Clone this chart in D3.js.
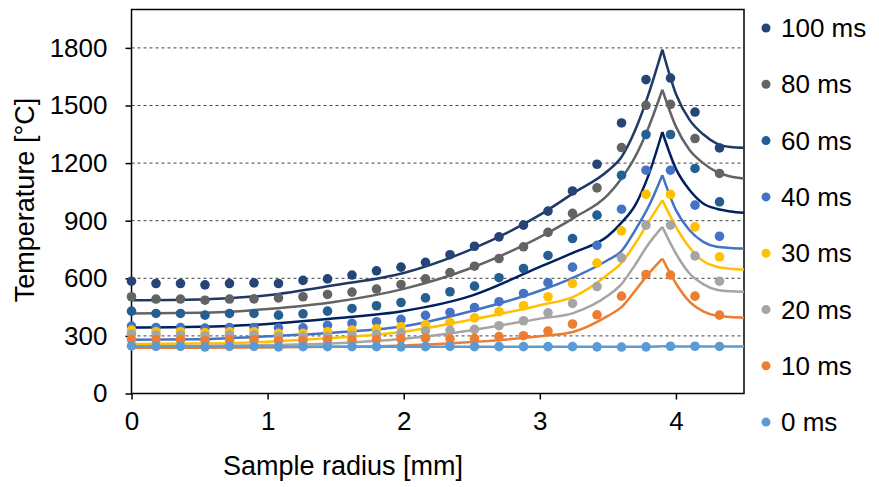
<!DOCTYPE html>
<html>
<head>
<meta charset="utf-8">
<script src="https://cdn.jsdelivr.net/npm/d3@7"></script>
<style>
    body { margin: 0; background: #fff; }
    svg text { font-family: "Liberation Sans", Arial, sans-serif; fill: #000; }
</style>
</head>
<body>
<div id="chart"></div>
<script>
// measured points (radius in mm)
const radius = [0, 0.18, 0.36, 0.54, 0.72, 0.9, 1.08, 1.26, 1.44, 1.62, 1.8, 1.98, 2.16,
    2.34, 2.52, 2.7, 2.88, 3.06, 3.24, 3.42, 3.6, 3.78, 3.96, 4.14, 4.32];

const series = ["100 ms", "80 ms", "60 ms", "40 ms", "30 ms", "20 ms", "10 ms", "0 ms"];

const measured100 = [585, 573, 573, 566, 573, 576, 573, 589, 597, 617, 639, 658, 683, 723, 767, 816, 877, 950, 1055, 1194, 1409, 1635, 1643, 1466, 1279];
const measured80 = [504, 492, 492, 486, 492, 493, 498, 504, 516, 528, 544, 568, 597, 630, 663, 703, 764, 839, 938, 1071, 1281, 1501, 1506, 1328, 1146];
const measured60 = [429, 417, 417, 408, 417, 417, 408, 415, 429, 443, 457, 474, 498, 530, 559, 603, 651, 719, 807, 929, 1137, 1349, 1349, 1172, 998];
const measured40 = [351, 344, 344, 341, 344, 344, 342, 342, 355, 365, 374, 386, 407, 422, 448, 478, 521, 577, 658, 772, 960, 1163, 1163, 981, 819];
const measured30 = [330, 322, 322, 317, 322, 322, 313, 313, 322, 330, 337, 348, 358, 370, 394, 426, 457, 504, 573, 679, 847, 1037, 1037, 868, 712];
const measured20 = [310, 305, 305, 300, 305, 305, 296, 296, 296, 304, 308, 316, 325, 329, 334, 353, 379, 420, 469, 557, 707, 877, 877, 717, 585];
const measured10 = [282, 280, 280, 276, 280, 280, 275, 275, 278, 278, 281, 284, 287, 285, 287, 296, 301, 325, 362, 410, 507, 620, 617, 507, 408];
const measured0 = [248, 245, 245, 242, 245, 245, 243, 244, 244, 244, 244, 243, 244, 245, 244, 244, 244, 244, 244, 243, 242, 243, 246, 246, 245];

// simulated curves
const lineRadius = [0, 0.5, 1, 1.5, 2, 2.5, 3, 3.25, 3.5, 3.6, 3.7, 3.8, 3.9, 4.0, 4.1, 4.2, 4.3, 4.4, 4.5];
const peakRadius = 3.9;

const model100 = [486, 490, 512, 565, 628, 752, 930, 1045, 1160, 1232, 1371, 1562, 1791, 1560, 1425, 1350, 1302, 1284, 1280];
const model80 = [417, 420, 440, 478, 545, 655, 815, 915, 1035, 1120, 1232, 1388, 1582, 1390, 1268, 1200, 1154, 1130, 1120];
const model60 = [344, 348, 362, 392, 430, 510, 660, 735, 820, 890, 980, 1140, 1362, 1170, 1060, 990, 962, 948, 941];
const model40 = [280, 283, 298, 318, 350, 430, 535, 605, 695, 742, 850, 975, 1137, 955, 850, 790, 764, 758, 755];
const model30 = [258, 260, 270, 290, 322, 385, 460, 505, 620, 680, 780, 895, 1007, 868, 760, 690, 660, 650, 646];
const model20 = [245, 247, 252, 262, 285, 330, 390, 420, 510, 570, 670, 780, 868, 729, 625, 570, 540, 532, 530];
const model10 = [238, 238, 240, 243, 250, 268, 298, 322, 404, 450, 535, 625, 703, 573, 478, 428, 405, 398, 394];
const model0 = [245, 245, 244, 244, 244, 244, 244, 244, 244, 244, 244, 244, 246, 245, 245, 245, 245, 245, 245];

const yTicks = [0, 300, 600, 900, 1200, 1500, 1800];
const xTicks = [0, 1, 2, 3, 4];

const dotColors = ["#264478", "#636363", "#255E91", "#4472C4", "#FFC000", "#A5A5A5", "#ED7D31", "#5B9BD5"];
const lineColors = ["#1F3864", "#636363", "#002060", "#4472C4", "#FFC000", "#A5A5A5", "#ED7D31", "#5B9BD5"];

class TemperatureChart {

    plot = { left: 131.5, right: 744, top: 9.5, bottom: 393.5 }

    constructor(width = 879, height = 487) {
        this.width = width;
        this.height = height;
    }

    draw(divId) {
        const measured = [measured100, measured80, measured60, measured40, measured30, measured20, measured10, measured0];
        const models = [model100, model80, model60, model40, model30, model20, model10, model0];

        const svg = d3.select(divId)
            .append("svg")
            .attr("width", this.width)
            .attr("height", this.height);

        const x = d3.scaleLinear()
            .domain([0, 4.5])
            .range([this.plot.left, this.plot.right]);

        const y = d3.scaleLinear()
            .domain([0, 2000])
            .range([this.plot.bottom, this.plot.top]);

        // dashed grid
        svg.append("g")
            .selectAll("line")
            .data(yTicks.filter(t => t > 0))
            .enter().append("line")
            .attr("x1", this.plot.left)
            .attr("x2", this.plot.right)
            .attr("y1", d => y(d))
            .attr("y2", d => y(d))
            .attr("stroke", "#404040")
            .attr("stroke-width", 1)
            .attr("stroke-dasharray", "3,3");

        const yAxis = svg.append("g")
            .attr("transform", `translate(${this.plot.left},0)`)
            .call(d3.axisLeft(y).tickValues(yTicks).tickSize(6).tickPadding(18).tickFormat(d3.format("d")));

        const xAxis = svg.append("g")
            .attr("transform", `translate(0,${this.plot.bottom})`)
            .call(d3.axisBottom(x).tickValues(xTicks).tickSize(6).tickPadding(12).tickFormat(d3.format("d")));

        [yAxis, xAxis].forEach(a => {
            a.select(".domain").remove();
            a.selectAll(".tick line").attr("stroke", "#000").attr("stroke-width", 1.5);
            a.selectAll(".tick text").style("font-size", "26px").attr("fill", "#000");
        });

        // plot frame
        svg.append("rect")
            .attr("x", this.plot.left)
            .attr("y", this.plot.top)
            .attr("width", this.plot.right - this.plot.left)
            .attr("height", this.plot.bottom - this.plot.top)
            .attr("fill", "none")
            .attr("stroke", "#000")
            .attr("stroke-width", 1.5);

        // model curves, split at the peak so the cusp stays sharp
        const line = d3.line()
            .x(d => x(d[0]))
            .y(d => y(d[1]))
            .curve(d3.curveMonotoneX);

        const lines = svg.append("g");
        models.forEach((m, i) => {
            const pts = lineRadius.map((r, j) => [r, m[j]]);
            const left = pts.filter(p => p[0] <= peakRadius);
            const right = pts.filter(p => p[0] >= peakRadius);
            [left, right].forEach(branch => {
                lines.append("path")
                    .attr("d", line(branch))
                    .attr("fill", "none")
                    .attr("stroke", lineColors[i])
                    .attr("stroke-width", 2.5);
            });
        });

        // measured dots
        const dots = svg.append("g");
        measured.forEach((m, i) => {
            dots.append("g")
                .selectAll("circle")
                .data(m)
                .enter().append("circle")
                .attr("cx", (d, j) => x(radius[j]))
                .attr("cy", d => y(d))
                .attr("r", 4.8)
                .attr("fill", dotColors[i]);
        });

        // legend
        const legend = svg.append("g")
            .selectAll("g")
            .data(series)
            .enter().append("g")
            .attr("transform", (d, i) => `translate(766,${28 + i * 56.3})`);

        legend.append("circle")
            .attr("r", 4.5)
            .attr("fill", (d, i) => dotColors[i]);

        legend.append("text")
            .attr("x", 15)
            .attr("dy", "0.35em")
            .style("font-size", "26px")
            .text(d => d);

        // axis titles
        svg.append("text")
            .attr("x", 343)
            .attr("y", 475)
            .attr("text-anchor", "middle")
            .style("font-size", "27px")
            .text("Sample radius [mm]");

        svg.append("text")
            .attr("transform", "translate(34,200) rotate(-90)")
            .attr("text-anchor", "middle")
            .style("font-size", "27px")
            .text("Temperature [°C]");
    }
}

const chart = new TemperatureChart();
chart.draw("#chart");
</script>
</body>
</html>
